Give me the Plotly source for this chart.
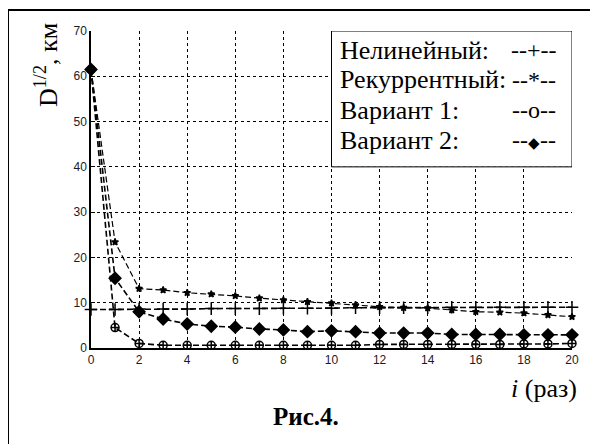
import plotly.graph_objects as go

iterations = list(range(21))
nonlinear = [8.5, 8.5, 8.6, 8.6, 8.6, 8.7, 8.7, 8.7, 8.8, 8.8, 8.8, 8.9, 8.9, 8.9, 8.9, 9.0, 9.0, 9.0, 9.0, 9.0, 9.0]
recurrent = [61.5, 23.4, 13.1, 12.8, 12.2, 11.9, 11.5, 11.0, 10.6, 10.2, 9.9, 9.5, 9.1, 8.9, 8.8, 8.4, 8.0, 7.9, 7.7, 7.3, 6.9]
variant1 = [61.5, 4.5, 1.0, 0.6, 0.6, 0.6, 0.6, 0.6, 0.6, 0.6, 0.6, 0.6, 0.8, 0.8, 0.8, 0.8, 0.8, 0.8, 0.9, 0.9, 1.0]
variant2 = [61.5, 15.4, 8.0, 6.4, 5.3, 4.8, 4.6, 4.2, 4.0, 3.6, 3.8, 3.6, 3.3, 3.3, 3.3, 3.0, 3.0, 3.0, 2.9, 2.9, 2.9]

legend_names = ["Нелинейный:", "Рекуррентный:", "Вариант 1:", "Вариант 2:"]
legend_marks = ["--+--", "--*--", "--o--",
                "--<span style='font-size:15px'>\u25c6</span>--"]
legend_y = [65.8, 59.2, 52.5, 45.9]

fig = go.Figure()
series = [
    (nonlinear, "cross-thin-open", 9, 1.6),
    (recurrent, "star", 5, 1.2),
    (variant1, "circle-cross-open", 8, 1.6),
    (variant2, "diamond", 9, 1.6),
]
for vals, sym, size, w in series:
    fig.add_trace(go.Scatter(
        x=iterations, y=vals, mode="lines+markers",
        line=dict(color="black", width=w, dash="6px,3px"),
        marker=dict(symbol=sym, size=size, color="black",
                    line=dict(color="black", width=1.5)),
        showlegend=False, cliponaxis=False))

serif = "Liberation Serif, Times New Roman, serif"

# legend box
fig.add_shape(type="rect", xref="x", yref="y", x0=10, x1=20, y0=40, y1=70,
              fillcolor="white", line=dict(color="black", width=1), layer="above")
for name, mark, yv in zip(legend_names, legend_marks, legend_y):
    fig.add_annotation(x=10.27, y=yv, xref="x", yref="y", text=name, showarrow=False,
                       xanchor="left", yanchor="middle", font=dict(family=serif, size=26, color="black"))
    fig.add_annotation(x=18.42, y=yv, xref="x", yref="y", text=mark, showarrow=False,
                       xanchor="center", yanchor="middle", font=dict(family=serif, size=24, color="black"))

# outer frame
fx = (8 - 91) / 481
fy = (348 - 10) / 317
fig.add_shape(type="line", xref="paper", yref="paper", x0=fx, x1=1.2, y0=fy, y1=fy,
              line=dict(color="black", width=2))
fig.add_shape(type="line", xref="paper", yref="paper", x0=fx, x1=fx, y0=fy, y1=-0.5,
              line=dict(color="black", width=2))

fig.add_annotation(x=(46 - 91) / 481, y=(348 - 65) / 317, xref="paper", yref="paper",
                   text="D<sup>1/2</sup>, км", textangle=-90, showarrow=False,
                   xanchor="center", yanchor="middle", font=dict(family=serif, size=26, color="black"))
fig.add_annotation(x=(579 - 91) / 481, y=(348 - 388) / 317, xref="paper", yref="paper",
                   text="<i>i</i> (раз)", showarrow=False,
                   xanchor="right", yanchor="middle", font=dict(family=serif, size=26, color="black"))
fig.add_annotation(x=(306 - 91) / 481, y=(348 - 416) / 317, xref="paper", yref="paper",
                   text="<b>Рис.4.</b>", showarrow=False,
                   xanchor="center", yanchor="middle", font=dict(family=serif, size=25, color="black"))

axis_common = dict(showgrid=True, gridcolor="black", griddash="3px,3px", gridwidth=1,
                   zeroline=False, showline=True, linecolor="black", linewidth=1.5,
                   ticks="inside", ticklen=4, tickcolor="black",
                   tickfont=dict(family="Liberation Sans, Arial, sans-serif", size=12, color="#1a1a2a"))
fig.update_xaxes(range=[0, 20], dtick=2, tick0=0, **axis_common)
fig.update_yaxes(range=[0, 70], dtick=10, tick0=0, **axis_common)

# page body adds an 8px offset, so the figure is shifted accordingly
fig.update_layout(width=590, height=436, margin=dict(l=83, r=26, t=23, b=96),
                  paper_bgcolor="white", plot_bgcolor="white")
fig.write_html("out.html")
